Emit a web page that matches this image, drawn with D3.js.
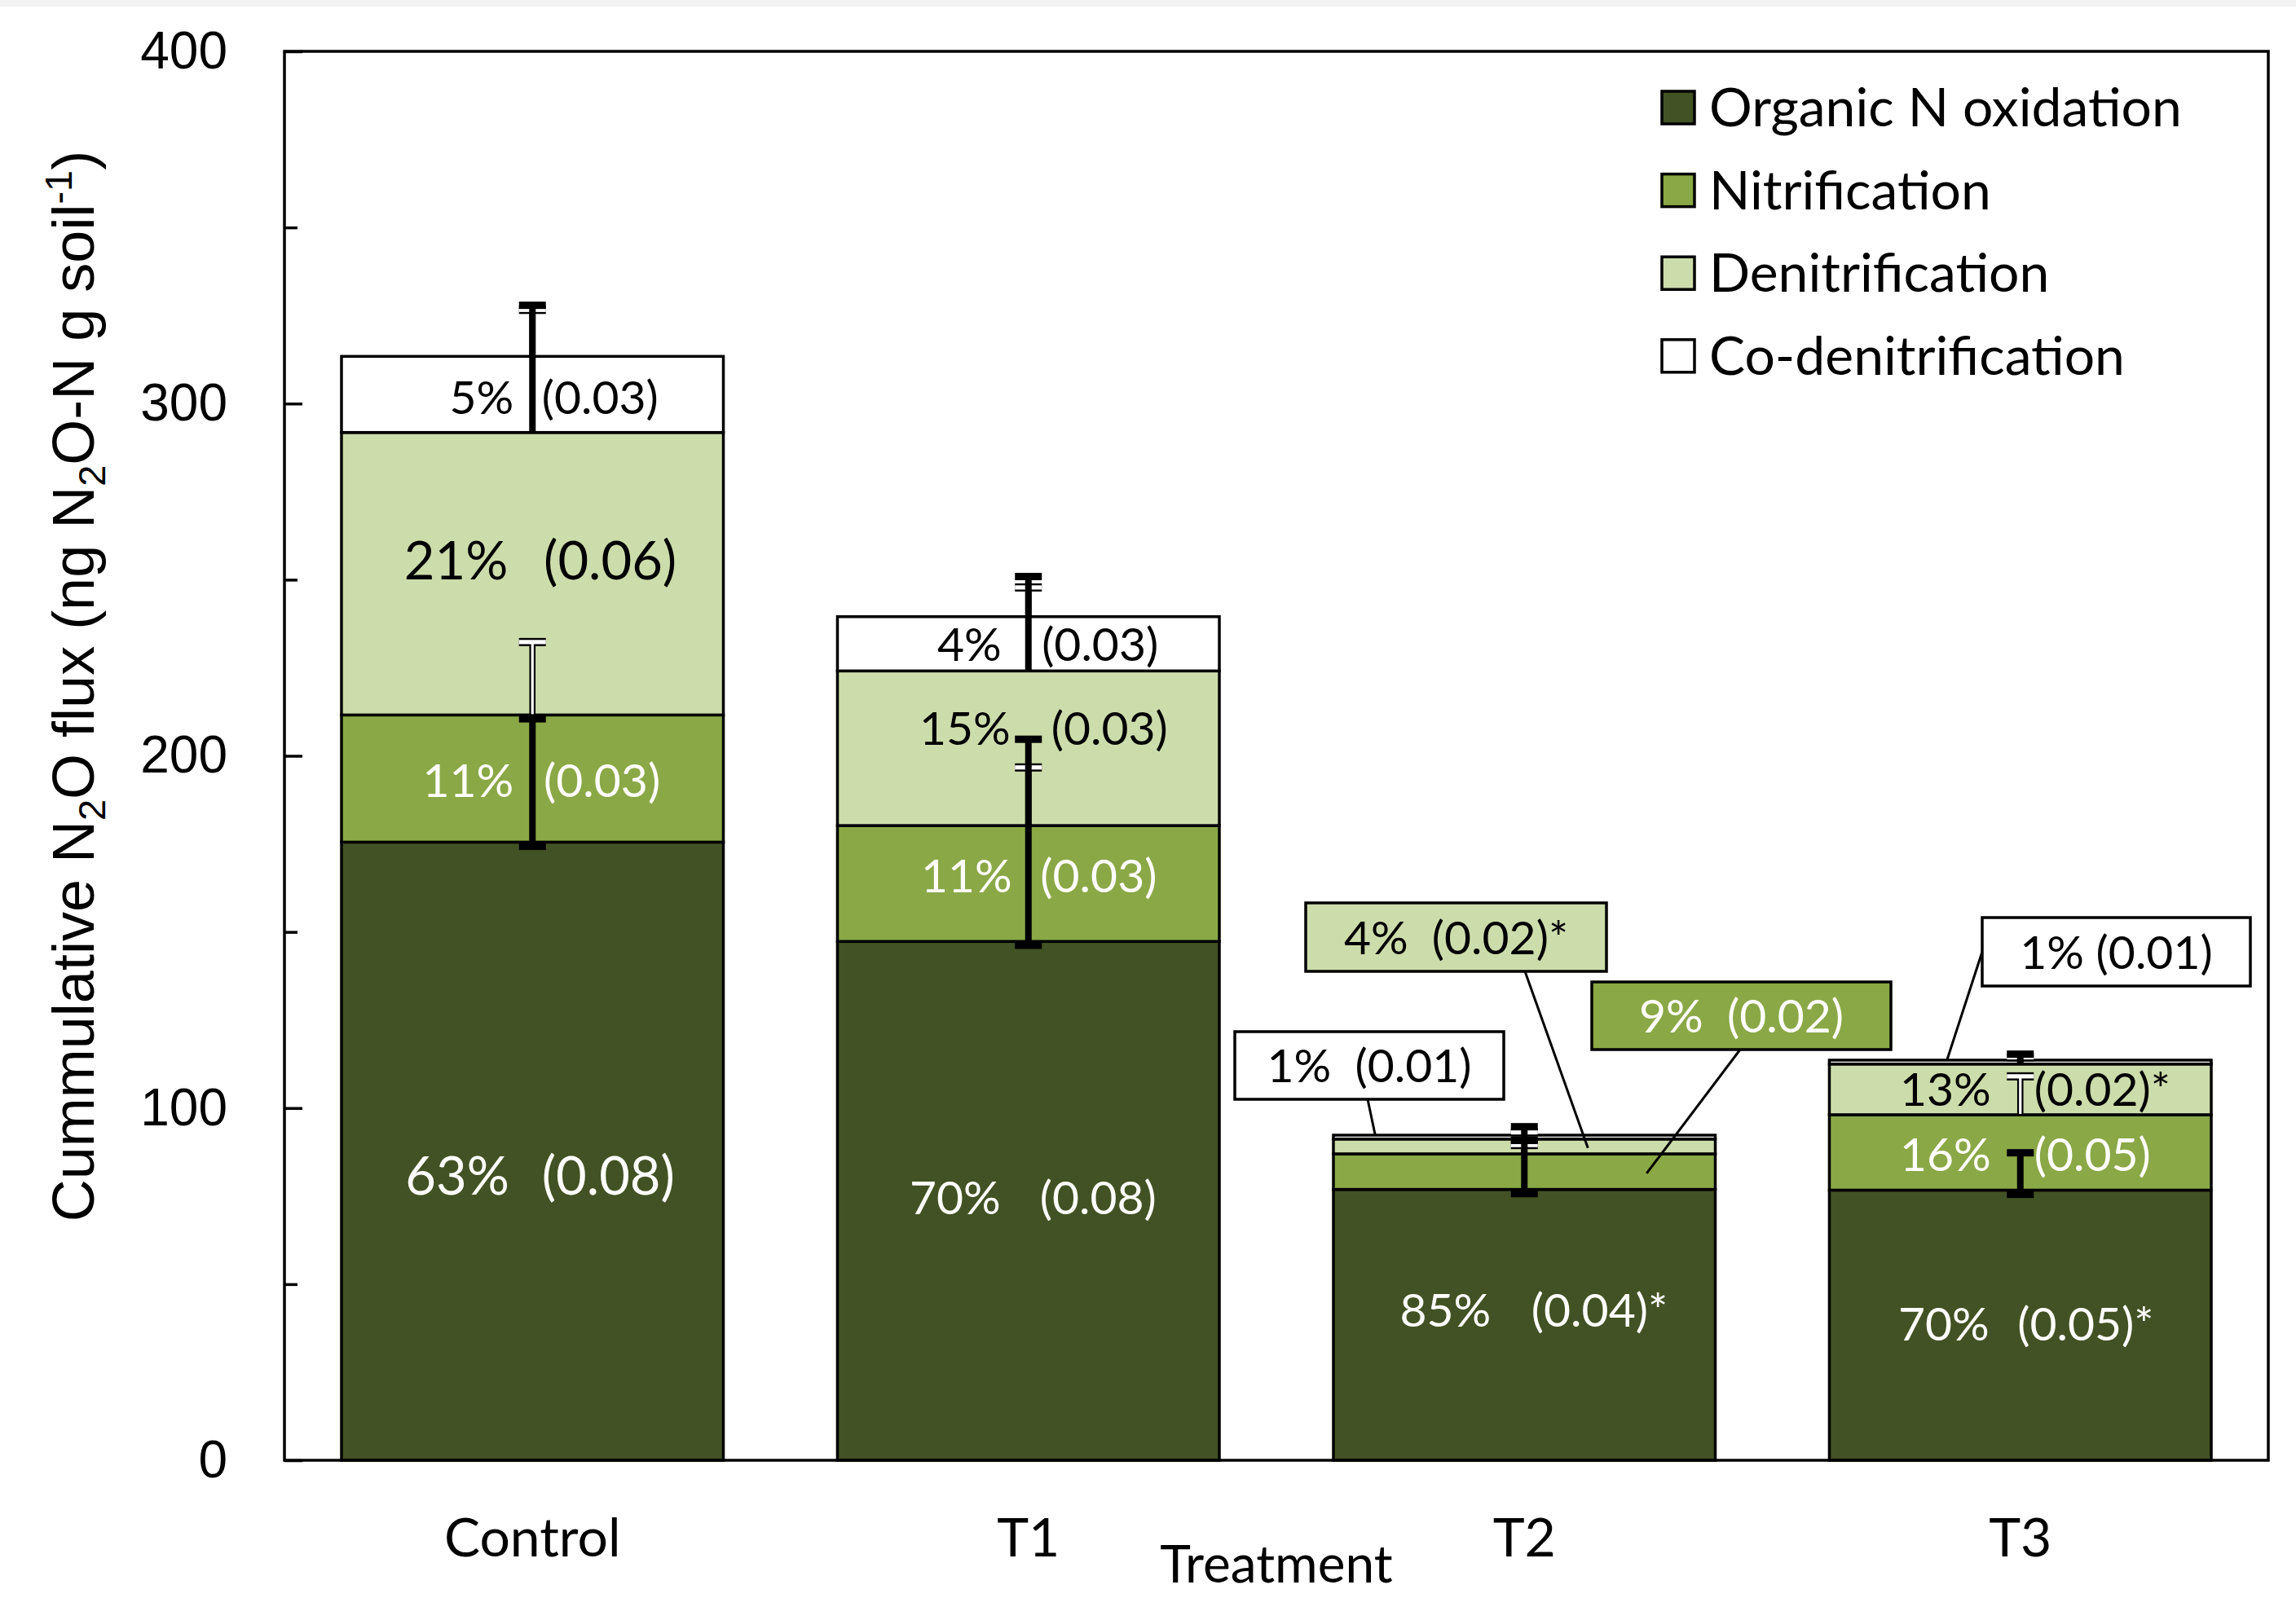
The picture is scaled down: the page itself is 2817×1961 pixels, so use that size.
<!DOCTYPE html>
<html>
<head>
<meta charset="utf-8">
<script src="https://cdn.jsdelivr.net/npm/d3@7/dist/d3.min.js"></script>
<style>
  html, body { margin: 0; padding: 0; background: #ffffff; }
  svg { display: block; }
  text { white-space: pre; }
</style>
</head>
<body>
<svg id="chart" width="2817" height="1961"></svg>
<script>
// ---- data -------------------------------------------------------------
const categories = ["Control", "T1", "T2", "T3"];
const seriesNames = ["Organic N oxidation", "Nitrification", "Denitrification", "Co-denitrification"];
const seriesKeys = ["organic", "nitrification", "denitrification", "coDenitrification"];

// cumulative N2O flux by pathway (ng N2O-N g soil-1)
const organicN          = [175.5, 147.3, 76.9, 76.7];
const nitrification     = [36.1, 32.9, 10.1, 21.4];
const denitrification   = [80.2, 43.9, 4.2, 14.4];
const coDenitrification = [21.6, 15.4, 1.1, 1.1];

// error bars (drawn from the top of each stacked segment)
const errPlusOrganic          = [35.0, 57.4, 13.9, 10.6];
const errMinusOrganic         = [1.2, 1.1, 1.2, 1.2];
const errPlusNitrification    = [20.7, 16.5, 2.5, 10.9];
const errPlusDenitrification  = [36.1, 26.8, 3.5, 2.8];
const errPlusCoDenitrification = [13.2, 8.3, 0.8, 0.8];

// share of each pathway and its standard error
const pctOrganic = ["63%", "70%", "85%", "70%"];
const seOrganic  = ["(0.08)", "(0.08)", "(0.04)*", "(0.05)*"];
const pctNitrification = ["11%", "11%", "9%", "16%"];
const seNitrification  = ["(0.03)", "(0.03)", "(0.02)", "(0.05)"];
const pctDenitrification = ["21%", "15%", "4%", "13%"];
const seDenitrification  = ["(0.06)", "(0.03)", "(0.02)*", "(0.02)*"];
const pctCoDenitrification = ["5%", "4%", "1%", "1%"];
const seCoDenitrification  = ["(0.03)", "(0.03)", "(0.01)", "(0.01)"];

const yTicks = [0, 100, 200, 300, 400];
const yMinorTicks = [50, 150, 250, 350];

// ---- styling / layout ---------------------------------------------------
const colors = ["#435224", "#8aa846", "#cddcab", "#ffffff"];
const labelColors = ["#ffffff", "#ffffff", "#000000", "#000000"];
const errStyle = ["solid", "hollow", "solid", "hollow"];
const FONT = "Lato, 'Open Sans', sans-serif";
const AXFONT = "'Liberation Sans', Arial, sans-serif";

const plot = { left: 349, right: 2783, top: 63, bottom: 1792 };

// in-bar labels: [series, category, pctEndDx, seStartDx, baselineDy, fontSize]
const insideLabelLayout = [
  [0, 0, -28.5, 11.5, 53.3, 65], [1, 0, -23, 13.8, 22.6, 57], [2, 0, -30, 13.8, 7, 65], [3, 0, -23, 11.5, 23.6, 57],
  [0, 1, -34, 14, 16.3, 57], [1, 1, -20, 14.6, 11.3, 57], [2, 1, -22, 28, -4.2, 57], [3, 1, -33, 16.4, 21, 57],
  [0, 2, -41, 8.6, 2.2, 57],
  [0, 3, -38, -3.5, 18.8, 57], [1, 3, -36, 17, 22.8, 57], [2, 3, -36, 17, 19.9, 57]
];
// callout boxes: [series, category, x0, y0, x1, y1, leaderStartX, leaderStartY, leaderEndDx, segmentFraction, sep]
const calloutLayout = [
  [3, 2, 1515, 1266, 1845, 1349, 1678, 1349, -183, 1.0, "  "],
  [2, 2, 1602, 1108, 1971, 1192, 1871, 1192, 78, 0.4, "  "],
  [1, 2, 1953, 1205, 2320, 1288, 2135, 1288, 150, 0.45, "  "],
  [3, 3, 2432, 1126, 2761, 1210, 2432, 1168, -90, 1.0, " "]
];

// ---- scales -----------------------------------------------------------
const svg = d3.select("#chart");

svg.append("rect").attr("x", 0).attr("y", 0).attr("width", 2817).attr("height", 8).attr("fill", "#f2f2f2");

const x = d3.scaleBand().domain(categories)
  .range([plot.left, plot.right]).paddingInner(0.23).paddingOuter(0.115);
const y = d3.scaleLinear().domain([0, 400]).range([plot.bottom, plot.top]);

const table = categories.map((c, i) => ({
  category: c,
  organic: organicN[i],
  nitrification: nitrification[i],
  denitrification: denitrification[i],
  coDenitrification: coDenitrification[i]
}));
const stacked = d3.stack().keys(seriesKeys)(table);

const pctArrays = [pctOrganic, pctNitrification, pctDenitrification, pctCoDenitrification];
const seArrays = [seOrganic, seNitrification, seDenitrification, seCoDenitrification];
const errPlus = [errPlusOrganic, errPlusNitrification, errPlusDenitrification, errPlusCoDenitrification];

// ---- bars -------------------------------------------------------------
const layers = svg.append("g").selectAll("g").data(stacked).join("g")
  .attr("fill", (d, i) => colors[i]);
layers.selectAll("rect").data(d => d).join("rect")
  .attr("x", d => x(d.data.category))
  .attr("y", d => y(d[1]))
  .attr("width", x.bandwidth())
  .attr("height", d => y(d[0]) - y(d[1]))
  .attr("stroke", "#000").attr("stroke-width", 3.5);

// ---- axes & frame -----------------------------------------------------
svg.append("rect")
  .attr("x", plot.left).attr("y", plot.top)
  .attr("width", plot.right - plot.left).attr("height", plot.bottom - plot.top)
  .attr("fill", "none").attr("stroke", "#000").attr("stroke-width", 3.5);

const yAxis = svg.append("g").attr("transform", `translate(${plot.left},0)`)
  .call(d3.axisLeft(y).tickValues(yTicks).tickSize(-22).tickPadding(70).tickFormat(d3.format("d")));
yAxis.select(".domain").remove();
yAxis.selectAll(".tick line").attr("stroke", "#000").attr("stroke-width", 3.5);
yAxis.selectAll(".tick text").attr("font-family", AXFONT).attr("font-size", 64).attr("fill", "#000");

const yMinor = svg.append("g").attr("transform", `translate(${plot.left},0)`)
  .call(d3.axisLeft(y).tickValues(yMinorTicks).tickSize(-16).tickFormat(""));
yMinor.select(".domain").remove();
yMinor.selectAll(".tick line").attr("stroke", "#000").attr("stroke-width", 3.5);

const xAxis = svg.append("g").attr("transform", `translate(0,${plot.bottom})`)
  .call(d3.axisBottom(x).tickSize(0).tickPadding(0));
xAxis.select(".domain").remove();
xAxis.selectAll(".tick text")
  .attr("y", 118).attr("dy", null)
  .attr("font-family", FONT).attr("font-size", 66).attr("fill", "#000");

svg.append("text")
  .attr("x", (plot.left + plot.right) / 2).attr("y", 1942)
  .attr("text-anchor", "middle")
  .attr("font-family", FONT).attr("font-size", 64).attr("fill", "#000")
  .text("Treatment");

// y-axis title with sub/superscripts
const yTitle = svg.append("text")
  .attr("transform", "translate(115,842) rotate(-90)")
  .attr("text-anchor", "middle")
  .attr("font-family", AXFONT).attr("font-size", 72).attr("fill", "#000");
const titleParts = [
  ["Cummulative N", 0], ["2", 1], ["O flux (ng N", 0], ["2", 1], ["O-N g soil", 0], ["-1", 2], [")", 0]
];
titleParts.forEach(([t, kind], k) => {
  const prev = k > 0 ? titleParts[k - 1][1] : 0;
  let dy = 0;
  if (kind === 1) dy = 14;
  if (kind === 2) dy = -27;
  if (prev === 1) dy -= 14;
  if (prev === 2) dy += 27;
  yTitle.append("tspan")
    .attr("dy", dy)
    .attr("font-size", kind ? 47 : 72)
    .text(t);
});

// ---- in-bar labels ----------------------------------------------------
insideLabelLayout.forEach(([s, c, pdx, sdx, dy, fs]) => {
  const seg = stacked[s][c];
  const cx = x(categories[c]) + x.bandwidth() / 2;
  const mid = (y(seg[0]) + y(seg[1])) / 2;
  svg.append("text")
    .attr("x", cx + pdx).attr("y", mid + dy)
    .attr("text-anchor", "end")
    .attr("font-family", FONT).attr("font-size", fs).attr("fill", labelColors[s])
    .text(pctArrays[s][c]);
  svg.append("text")
    .attr("x", cx + sdx).attr("y", mid + dy)
    .attr("text-anchor", "start")
    .attr("font-family", FONT).attr("font-size", fs).attr("fill", labelColors[s])
    .text(seArrays[s][c]);
});

// ---- callouts for thin segments ---------------------------------------
calloutLayout.forEach(([s, c, x0, y0, x1, y1, lx, ly, edx, frac, sep]) => {
  const seg = stacked[s][c];
  const cx = x(categories[c]) + x.bandwidth() / 2;
  const ey = y(seg[0] + (seg[1] - seg[0]) * frac);
  svg.append("line")
    .attr("x1", lx).attr("y1", ly).attr("x2", cx + edx).attr("y2", ey)
    .attr("stroke", "#000").attr("stroke-width", 3);
  svg.append("rect")
    .attr("x", x0).attr("y", y0).attr("width", x1 - x0).attr("height", y1 - y0)
    .attr("fill", colors[s]).attr("stroke", "#000").attr("stroke-width", 3.5);
  svg.append("text")
    .attr("x", (x0 + x1) / 2).attr("y", (y0 + y1) / 2 + 20.5)
    .attr("text-anchor", "middle")
    .attr("font-family", FONT).attr("font-size", 57).attr("fill", labelColors[s])
    .text(pctArrays[s][c] + sep + seArrays[s][c]);
});

// ---- error bars -------------------------------------------------------
const capW = 33, stemW = 8;
function drawErr(g, cx, lo, hi, style, capLo) {
  const yHi = y(hi), yLo = y(lo);
  if (style === "solid") {
    g.append("rect").attr("x", cx - stemW / 2).attr("y", yHi).attr("width", stemW).attr("height", yLo - yHi).attr("fill", "#000");
    g.append("rect").attr("x", cx - capW / 2).attr("y", yHi - 4.5).attr("width", capW).attr("height", 9).attr("fill", "#000");
    if (capLo) g.append("rect").attr("x", cx - capW / 2).attr("y", yLo - 4.5).attr("width", capW).attr("height", 9).attr("fill", "#000");
  } else {
    g.append("rect").attr("x", cx - 3.8).attr("y", yHi).attr("width", 7.6).attr("height", yLo - yHi).attr("fill", "#000");
    g.append("rect").attr("x", cx - capW / 2).attr("y", yHi - 5).attr("width", capW).attr("height", 10).attr("fill", "#000");
    g.append("rect").attr("x", cx - 1.6).attr("y", yHi).attr("width", 3.2).attr("height", Math.max(0, yLo - yHi - 1)).attr("fill", "#fff");
    g.append("rect").attr("x", cx - capW / 2).attr("y", yHi - 2.6).attr("width", capW).attr("height", 5.2).attr("fill", "#fff");
  }
}
const errG = svg.append("g");
// outlined bars underneath, solid bars on top
[1, 3, 0, 2].forEach(s => {
  categories.forEach((c, i) => {
    const seg = stacked[s][i];
    const cx = x(c) + x.bandwidth() / 2;
    const lo = s === 0 ? seg[1] - errMinusOrganic[i] : seg[1];
    drawErr(errG, cx, lo, seg[1] + errPlus[s][i], errStyle[s], s === 0);
  });
});

// ---- legend -----------------------------------------------------------
const legend = svg.append("g");
seriesNames.forEach((name, i) => {
  const cy = 132 + i * 101.6;
  legend.append("rect")
    .attr("x", 2039).attr("y", cy - 20).attr("width", 40).attr("height", 40)
    .attr("fill", colors[i]).attr("stroke", "#000").attr("stroke-width", 3.5);
  legend.append("text")
    .attr("x", 2097).attr("y", cy + 23)
    .attr("font-family", FONT).attr("font-size", 66).attr("fill", "#000")
    .text(name);
});
</script>
</body>
</html>
